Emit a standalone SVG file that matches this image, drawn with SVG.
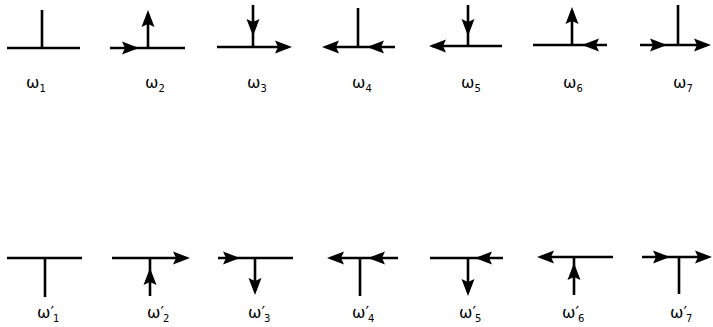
<svg xmlns="http://www.w3.org/2000/svg" xmlns:xlink="http://www.w3.org/1999/xlink" width="713" height="327" viewBox="0 0 713 327">
<style>
.ln{stroke:#000;stroke-width:2.6;fill:none;stroke-linecap:butt}
.lb{font-family:"DejaVu Sans","Liberation Sans",sans-serif;font-size:16px;fill:#000}
.sb{font-size:10px}
</style>
<defs>
<path id="ah" d="M0,0 L-17,-6.5 L-14,0 L-17,6.5 Z" fill="#000"/>
</defs>
<rect width="713" height="327" fill="#fff"/>
<g id="connectors">
</g>
<g id="w1">
<path class="ln" d="M7,48 H80 M42,48 V10"/>
<text class="lb" x="26" y="88">ω<tspan class="sb" dy="4">1</tspan></text>
</g>
<g id="w2">
<path class="ln" d="M110,48 H185 M148,48 V14"/>
<use xlink:href="#ah" transform="translate(148,10) rotate(-90)"/>
<use xlink:href="#ah" transform="translate(139,48)"/>
<text class="lb" x="145" y="88">ω<tspan class="sb" dy="4">2</tspan></text>
</g>
<g id="w3">
<path class="ln" d="M217,47 H288 M253,47 V5"/>
<use xlink:href="#ah" transform="translate(253,36) rotate(90)"/>
<use xlink:href="#ah" transform="translate(292,47)"/>
<text class="lb" x="247" y="88">ω<tspan class="sb" dy="4">3</tspan></text>
</g>
<g id="w4">
<path class="ln" d="M326,47 H395 M358,47 V8"/>
<use xlink:href="#ah" transform="translate(322,47) rotate(180)"/>
<use xlink:href="#ah" transform="translate(367,47) rotate(180)"/>
<text class="lb" x="352" y="88">ω<tspan class="sb" dy="4">4</tspan></text>
</g>
<g id="w5">
<path class="ln" d="M432,46 H502 M468,46 V5"/>
<use xlink:href="#ah" transform="translate(468,36) rotate(90)"/>
<use xlink:href="#ah" transform="translate(429,46) rotate(180)"/>
<text class="lb" x="461" y="88">ω<tspan class="sb" dy="4">5</tspan></text>
</g>
<g id="w6">
<path class="ln" d="M533,45 H607 M572,45 V11"/>
<use xlink:href="#ah" transform="translate(572,7) rotate(-90)"/>
<use xlink:href="#ah" transform="translate(582,45) rotate(180)"/>
<text class="lb" x="563" y="88">ω<tspan class="sb" dy="4">6</tspan></text>
</g>
<g id="w7">
<path class="ln" d="M640,45 H706 M678,45 V5"/>
<use xlink:href="#ah" transform="translate(667,45)"/>
<use xlink:href="#ah" transform="translate(711,45)"/>
<text class="lb" x="673" y="88">ω<tspan class="sb" dy="4">7</tspan></text>
</g>
<g id="w1p">
<path class="ln" d="M7,258 H82 M45,258 V297"/>
<text class="lb" x="37" y="318">ω′<tspan class="sb" dx="-1" dy="4">1</tspan></text>
</g>
<g id="w2p">
<path class="ln" d="M112,258 H186 M150,258 V296"/>
<use xlink:href="#ah" transform="translate(190,258)"/>
<use xlink:href="#ah" transform="translate(150,268) rotate(-90)"/>
<text class="lb" x="147" y="318">ω′<tspan class="sb" dx="-1" dy="4">2</tspan></text>
</g>
<g id="w3p">
<path class="ln" d="M218,258 H293 M255,258 V291"/>
<use xlink:href="#ah" transform="translate(240,258)"/>
<use xlink:href="#ah" transform="translate(255,295) rotate(90)"/>
<text class="lb" x="248" y="318">ω′<tspan class="sb" dx="-1" dy="4">3</tspan></text>
</g>
<g id="w4p">
<path class="ln" d="M331,258 H398 M360,258 V296"/>
<use xlink:href="#ah" transform="translate(327,258) rotate(180)"/>
<use xlink:href="#ah" transform="translate(368,258) rotate(180)"/>
<text class="lb" x="352" y="318">ω′<tspan class="sb" dx="-1" dy="4">4</tspan></text>
</g>
<g id="w5p">
<path class="ln" d="M430,258 H503 M468,258 V292"/>
<use xlink:href="#ah" transform="translate(468,296) rotate(90)"/>
<use xlink:href="#ah" transform="translate(475,258) rotate(180)"/>
<text class="lb" x="459" y="318">ω′<tspan class="sb" dx="-1" dy="4">5</tspan></text>
</g>
<g id="w6p">
<path class="ln" d="M541,257 H613 M574,257 V295"/>
<use xlink:href="#ah" transform="translate(537,257) rotate(180)"/>
<use xlink:href="#ah" transform="translate(574,263) rotate(-90)"/>
<text class="lb" x="562" y="318">ω′<tspan class="sb" dx="-1" dy="4">6</tspan></text>
</g>
<g id="w7p">
<path class="ln" d="M642,257 H708 M679,257 V294"/>
<use xlink:href="#ah" transform="translate(670,257)"/>
<use xlink:href="#ah" transform="translate(712,257)"/>
<text class="lb" x="670" y="318">ω′<tspan class="sb" dx="-1" dy="4">7</tspan></text>
</g>
</svg>
